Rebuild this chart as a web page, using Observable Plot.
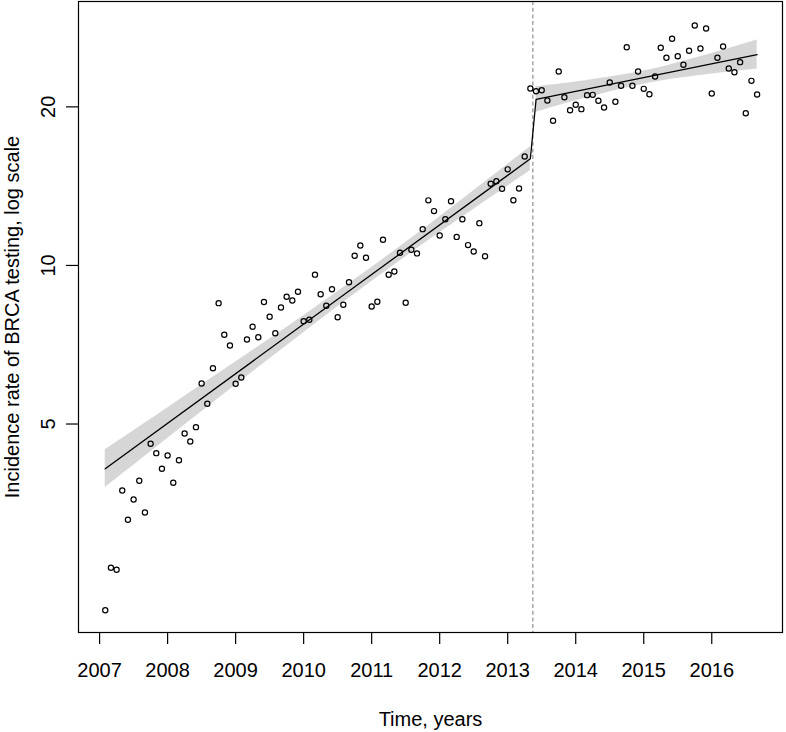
<!DOCTYPE html>
<html>
<head>
<meta charset="utf-8">
<script src="https://cdn.jsdelivr.net/npm/d3@7"></script>
<script src="https://cdn.jsdelivr.net/npm/@observablehq/plot@0.6"></script>
<style>
  html, body { margin: 0; padding: 0; background: #ffffff; }
  #chart { width: 786px; height: 732px; }
</style>
</head>
<body>
<div id="chart"></div>
<script>
// Monthly observations (end of month)
const months = [
  "2007-01","2007-02","2007-03","2007-04","2007-05","2007-06","2007-07","2007-08","2007-09","2007-10","2007-11","2007-12",
  "2008-01","2008-02","2008-03","2008-04","2008-05","2008-06","2008-07","2008-08","2008-09","2008-10","2008-11","2008-12",
  "2009-01","2009-02","2009-03","2009-04","2009-05","2009-06","2009-07","2009-08","2009-09","2009-10","2009-11","2009-12",
  "2010-01","2010-02","2010-03","2010-04","2010-05","2010-06","2010-07","2010-08","2010-09","2010-10","2010-11","2010-12",
  "2011-01","2011-02","2011-03","2011-04","2011-05","2011-06","2011-07","2011-08","2011-09","2011-10","2011-11","2011-12",
  "2012-01","2012-02","2012-03","2012-04","2012-05","2012-06","2012-07","2012-08","2012-09","2012-10","2012-11","2012-12",
  "2013-01","2013-02","2013-03","2013-04","2013-05","2013-06","2013-07","2013-08","2013-09","2013-10","2013-11","2013-12",
  "2014-01","2014-02","2014-03","2014-04","2014-05","2014-06","2014-07","2014-08","2014-09","2014-10","2014-11","2014-12",
  "2015-01","2015-02","2015-03","2015-04","2015-05","2015-06","2015-07","2015-08","2015-09","2015-10","2015-11","2015-12",
  "2016-01","2016-02","2016-03","2016-04","2016-05","2016-06","2016-07","2016-08"
];

// Incidence rate of BRCA testing
const rate = [
  2.216, 2.667, 2.644, 3.739, 3.290, 3.595, 3.902, 3.397, 4.586, 4.402, 4.111, 4.357,
  3.868, 4.269, 4.797, 4.632, 4.932, 5.969, 5.462, 6.382, 8.480, 7.385, 7.048, 5.961,
  6.129, 7.235, 7.649, 7.308, 8.525, 7.993, 7.437, 8.322, 8.721, 8.581, 8.912, 7.838,
  7.887, 9.605, 8.819, 8.383, 9.013, 7.976, 8.420, 9.294, 10.43, 10.91, 10.34, 8.358,
  8.531, 11.19, 9.601, 9.741, 10.57, 8.494, 10.71, 10.54, 11.72, 13.29, 12.68, 11.40,
  12.24, 13.24, 11.33, 12.24, 10.93, 10.63, 12.03, 10.41, 14.29, 14.45, 13.98, 15.22,
  13.30, 14.00, 16.10, 21.67, 21.42, 21.51, 20.56, 18.82, 23.35, 20.86, 19.71, 20.18,
  19.80, 21.05, 21.08, 20.54, 19.94, 22.25, 20.45, 21.93, 25.96, 21.93, 23.35, 21.64,
  21.14, 22.84, 25.89, 24.79, 26.93, 24.96, 24.04, 25.56, 28.54, 25.81, 28.17, 21.21,
  24.79, 26.04, 23.65, 23.27, 24.32, 19.45, 22.41, 21.11
];

// Fitted segmented trend
const fitTime = [2007.083, 2013.333, 2013.417, 2016.667];
const fitRate = [4.111, 15.94, 20.66, 25.14];

// Confidence band, before intervention
const preBandTime = [2007.083, 2008.0, 2009.0, 2010.0, 2011.0, 2012.0, 2013.333];
const preBandLow  = [3.784, 4.692, 5.922, 7.455, 9.322, 11.53, 15.12];
const preBandHigh = [4.468, 5.363, 6.554, 8.030, 9.910, 12.36, 16.80];

// Confidence band, after intervention
const postBandTime = [2013.417, 2014.0, 2015.0, 2016.0, 2016.667];
const postBandLow  = [19.53, 20.54, 22.09, 23.08, 23.60];
const postBandHigh = [21.84, 22.29, 23.39, 25.26, 26.79];

// Intervention date
const interventionTime = [2013.37];

// Axis ticks
const xTicks = [2007, 2008, 2009, 2010, 2011, 2012, 2013, 2014, 2015, 2016];
const yTicks = [5, 10, 20];

const xLabel = "Time, years";
const yLabel = "Incidence rate of BRCA testing, log scale";

// ---- build tables
const toDecimal = (s) => { const [y, m] = s.split("-").map(Number); return y + m / 12; };
const points = months.map((m, i) => ({ t: toDecimal(m), rate: rate[i] }));
const fit = fitTime.map((t, i) => ({ t, rate: fitRate[i] }));
const preBand = preBandTime.map((t, i) => ({ t, lo: preBandLow[i], hi: preBandHigh[i] }));
const postBand = postBandTime.map((t, i) => ({ t, lo: postBandLow[i], hi: postBandHigh[i] }));

const font = "'Liberation Sans', Arial, Helvetica, sans-serif";

const chart = Plot.plot({
  width: 786,
  height: 732,
  marginLeft: 78,
  marginRight: 4,
  marginTop: 1,
  marginBottom: 100,
  style: { fontFamily: font, fontSize: "20px", background: "#ffffff", color: "black" },
  x: { domain: [2006.69, 2017.04] },
  y: { type: "log", domain: [2.01, 31.7] },
  marks: [
    Plot.areaY(preBand, { x: "t", y1: "lo", y2: "hi", fill: "#d6d6d6", curve: "catmull-rom" }),
    Plot.areaY(postBand, { x: "t", y1: "lo", y2: "hi", fill: "#d6d6d6", curve: "catmull-rom" }),
    Plot.ruleX(interventionTime, { stroke: "#858585", strokeWidth: 1.1, strokeDasharray: "4,2.7" }),
    Plot.line(fit, { x: "t", y: "rate", stroke: "black", strokeWidth: 1.3 }),
    Plot.dot(points, { x: "t", y: "rate", r: 2.6, stroke: "black", strokeWidth: 1.2, fill: "none" }),
    Plot.frame({ stroke: "black", strokeWidth: 1.2 }),
    Plot.axisX({ ticks: xTicks, tickSize: 12, tickFormat: () => "", label: null, strokeWidth: 1.2 }),
    Plot.axisY({ ticks: yTicks, tickSize: 12, tickFormat: () => "", label: null, strokeWidth: 1.2 }),
    Plot.text(xTicks, { x: (d) => d, frameAnchor: "bottom", dy: 30.5, lineAnchor: "top", textAnchor: "middle", text: (d) => String(d), fontSize: 20, fill: "black" }),
    Plot.text(yTicks, { y: (d) => d, frameAnchor: "left", dx: -29.5, rotate: -90, lineAnchor: "middle", textAnchor: "middle", text: (d) => String(d), fontSize: 20, fill: "black" }),
    Plot.text([xLabel], { frameAnchor: "bottom", dy: 87, lineAnchor: "middle", textAnchor: "middle", text: (d) => d, fontSize: 20, fill: "black" }),
    Plot.text([yLabel], { frameAnchor: "left", dx: -65.5, rotate: -90, lineAnchor: "middle", textAnchor: "middle", text: (d) => d, fontSize: 20, fill: "black" })
  ]
});

document.getElementById("chart").appendChild(chart);
</script>
</body>
</html>
